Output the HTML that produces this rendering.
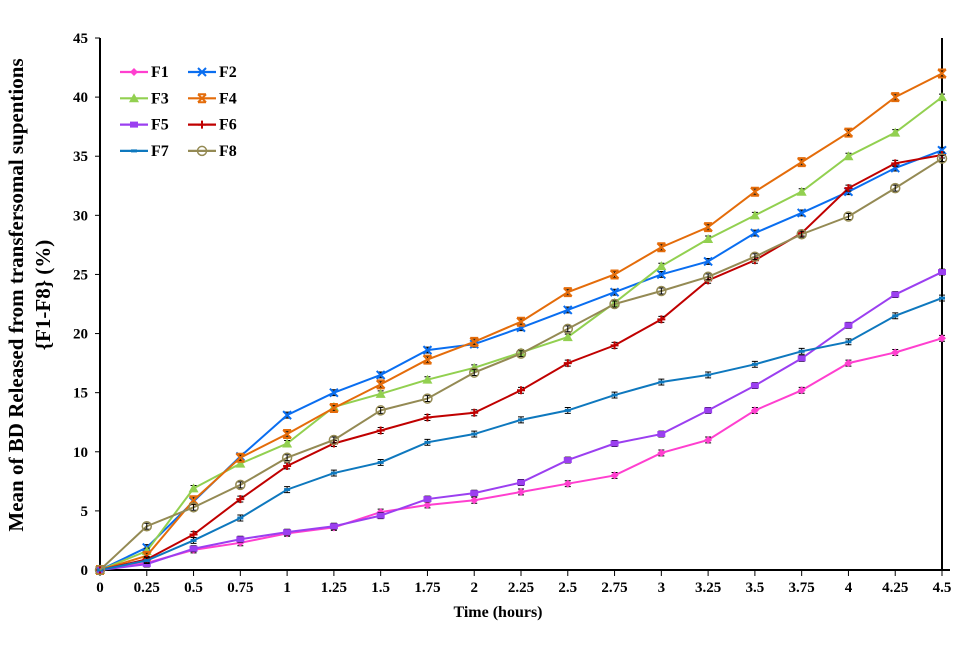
<!DOCTYPE html>
<html><head><meta charset="utf-8">
<style>
body{margin:0;background:#fff;}
svg text{font-family:"Liberation Serif",serif;font-weight:bold;fill:#000;}
</style></head>
<body>
<svg id="chart" width="977" height="640" viewBox="0 0 977 640" xmlns="http://www.w3.org/2000/svg">
<g id="grid"></g>
<g id="series"></g>
<g id="legend"></g>
<text transform="translate(23,295) rotate(-90)" text-anchor="middle" font-size="21">Mean of BD Released from transfersomal supentions</text>
<text transform="translate(50,295) rotate(-90)" text-anchor="middle" font-size="21">{F1-F8} (%)</text>
<text x="498" y="617" text-anchor="middle" font-size="16">Time (hours)</text>
</svg>
<script>
const xCats = [0,0.25,0.5,0.75,1,1.25,1.5,1.75,2,2.25,2.5,2.75,3,3.25,3.5,3.75,4,4.25,4.5];
const xTickLabels = ["0","0.25","0.5","0.75","1","1.25","1.5","1.75","2","2.25","2.5","2.75","3","3.25","3.5","3.75","4","4.25","4.5"];
const yTicks = [0,5,10,15,20,25,30,35,40,45];
const seriesNames = ["F1","F2","F3","F4","F5","F6","F7","F8"];
const F1 = [0,0.6,1.7,2.3,3.1,3.6,4.9,5.5,5.9,6.6,7.3,8.0,9.9,11.0,13.5,15.2,17.5,18.4,19.6];
const F2 = [0,1.9,5.8,9.6,13.1,15.0,16.5,18.6,19.1,20.5,22.0,23.5,25.0,26.1,28.5,30.2,32.0,34.0,35.5];
const F3 = [0,1.6,6.9,9.0,10.7,13.8,14.9,16.1,17.1,18.4,19.7,22.6,25.7,28.0,30.0,32.0,35.0,37.0,40.0];
const F4 = [0,1.2,5.9,9.5,11.5,13.7,15.7,17.8,19.3,21.0,23.5,25.0,27.3,29.0,32.0,34.5,37.0,40.0,42.0];
const F5 = [0,0.5,1.8,2.6,3.2,3.7,4.6,6.0,6.5,7.4,9.3,10.7,11.5,13.5,15.6,17.9,20.7,23.3,25.2];
const F6 = [0,0.9,3.0,6.0,8.8,10.7,11.8,12.9,13.3,15.2,17.5,19.0,21.2,24.5,26.2,28.5,32.3,34.4,35.1];
const F7 = [0,0.8,2.5,4.4,6.8,8.2,9.1,10.8,11.5,12.7,13.5,14.8,15.9,16.5,17.4,18.5,19.3,21.5,23.0];
const F8 = [0,3.7,5.3,7.2,9.5,11.0,13.5,14.5,16.7,18.3,20.4,22.5,23.6,24.8,26.5,28.4,29.9,32.3,34.8];
const errVal = 0.25;

const NS="http://www.w3.org/2000/svg";
const X0=100,X1=942,Y0=570,Y1=38;
const xs=v=>X0+(v-0)/(4.5)*(X1-X0);
const ys=v=>Y0-(v/45)*(Y0-Y1);
function mk(t,a,p){const e=document.createElementNS(NS,t);for(const k in a)e.setAttribute(k,a[k]);(p||document.getElementById('series')).appendChild(e);return e;}
const grid=document.getElementById('grid');
let e;
e=mk('line',{x1:X0,y1:Y1,x2:X0,y2:Y0+1,stroke:'#000','stroke-width':2},grid);


e=mk('line',{x1:X0-1,y1:Y0,x2:950,y2:Y0,stroke:'#000','stroke-width':2},grid);


e=mk('line',{x1:X1,y1:Y1,x2:X1,y2:Y0,stroke:'#000','stroke-width':2},grid);


yTicks.forEach(v=>{
  mk('line',{x1:X0-5,y1:ys(v),x2:X0,y2:ys(v),stroke:'#000','stroke-width':1},grid);
  const t=mk('text',{x:X0-12,y:ys(v)+5,'text-anchor':'end','font-size':15},grid);t.textContent=v;
  
  
});
xCats.forEach((v,i)=>{
  mk('line',{x1:xs(v),y1:Y0,x2:xs(v),y2:Y0+6,stroke:'#000','stroke-width':1},grid);
  const t=mk('text',{x:xs(v),y:Y0+22,'text-anchor':'middle','font-size':15},grid);t.textContent=xTickLabels[i];
  
  
});
const colors=['#FF3FCF','#0A6EF0','#92D050','#E46C0A','#9B3FF0','#C00000','#0E78BE','#948A54'];
const markers=['diamond','x','tri','xbar','square','plus','dash','circle'];
const data=[F1,F2,F3,F4,F5,F6,F7,F8];
function marker(type,x,y,c,p){
  const s=4;
  if(type==='diamond')mk('polygon',{points:`${x},${y-s} ${x+s},${y} ${x},${y+s} ${x-s},${y}`,fill:c},p);
  else if(type==='x'||type==='xbar'){mk('path',{d:`M${x-s} ${y-s}L${x+s} ${y+s}M${x-s} ${y+s}L${x+s} ${y-s}`+(type==='xbar'?`M${x-s} ${y-s}H${x+s}M${x-s} ${y+s}H${x+s}`:''),stroke:c,'stroke-width':2,fill:'none'},p);}
  else if(type==='tri')mk('polygon',{points:`${x},${y-s-1} ${x+s+1},${y+s} ${x-s-1},${y+s}`,fill:c},p);
  else if(type==='square')mk('rect',{x:x-s,y:y-3,width:2*s,height:6,fill:c},p);
  else if(type==='plus')mk('path',{d:`M${x-s} ${y}H${x+s}M${x} ${y-s}V${y+s}`,stroke:c,'stroke-width':2},p);
  else if(type==='dash')mk('path',{d:`M${x-3} ${y}H${x+3}`,stroke:c,'stroke-width':3},p);
  else if(type==='circle')mk('circle',{cx:x,cy:y,r:4.5,fill:'none',stroke:c,'stroke-width':1.5},p);
}
data.forEach((arr,si)=>{
  const g=mk('g',{});
  
  
  const pts=arr.map((v,i)=>xs(xCats[i])+','+ys(v)).join(' ');
  mk('polyline',{points:pts,fill:'none',stroke:colors[si],'stroke-width':2},g);
  arr.forEach((v,i)=>{
    const x=xs(xCats[i]),y=ys(v);
    if(i>0)mk('path',{d:`M${x-3} ${ys(v+errVal)}H${x+3}M${x} ${ys(v+errVal)}V${ys(v-errVal)}M${x-3} ${ys(v-errVal)}H${x+3}`,stroke:'#000','stroke-width':1},g);
    marker(markers[si],x,y,colors[si],g);
  });
});
const lg=document.getElementById('legend');


seriesNames.forEach((n,i)=>{
  const col=i%2,row=Math.floor(i/2);
  const lx=120+col*68,ly=72+row*26.3;
  const g=mk('g',{},lg);
  
  
  mk('line',{x1:lx,y1:ly,x2:lx+28,y2:ly,stroke:colors[i],'stroke-width':2.2},g);
  marker(markers[i],lx+14,ly,colors[i],g);
  const t=mk('text',{x:lx+31,y:ly+5,'font-size':16},g);t.textContent=n;
});
</script>
</body></html>
